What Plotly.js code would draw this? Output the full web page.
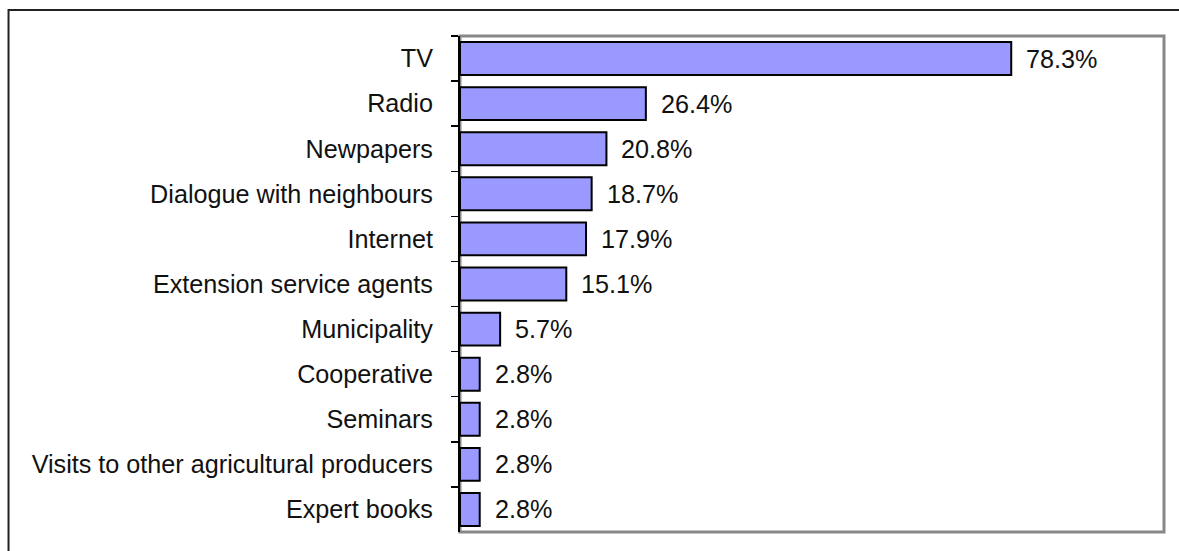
<!DOCTYPE html>
<html>
<head>
<meta charset="utf-8">
<script src="https://cdn.plot.ly/plotly-3.0.1.min.js"></script>
<style>
html,body{margin:0;padding:0;background:#fff;}
#chart{width:1179px;height:551px;}
</style>
</head>
<body>
<div id="chart"></div>
<script>
const categories = [
  "TV",
  "Radio",
  "Newpapers",
  "Dialogue with neighbours",
  "Internet",
  "Extension service agents",
  "Municipality",
  "Cooperative",
  "Seminars",
  "Visits to other agricultural producers",
  "Expert books"
];
const values = [78.3, 26.4, 20.8, 18.7, 17.9, 15.1, 5.7, 2.8, 2.8, 2.8, 2.8];
const valueLabels = values.map(v => v.toFixed(1) + "%");

const FONT = "Liberation Sans, Arial, sans-serif";
const FS = 25.2;

const trace = {
  type: "bar",
  orientation: "h",
  y: categories,
  x: values,
  marker: {color: "#9999FF", line: {color: "#000000", width: 2}},
  hoverinfo: "skip"
};

const annotations = categories.map((c, i) => ({
  x: values[i], y: c, xref: "x", yref: "y",
  text: valueLabels[i], showarrow: false,
  xanchor: "left", yanchor: "middle", xshift: 13,
  font: {family: FONT, size: FS, color: "#111"}
}));

const layout = {
  width: 1179, height: 551,
  margin: {l: 460, r: 15, t: 36, b: 19, pad: 0},
  paper_bgcolor: "#fff", plot_bgcolor: "#fff",
  showlegend: false,
  bargap: 0.27,
  font: {family: FONT, size: FS, color: "#111"},
  xaxis: {
    range: [0, 100], showgrid: false, zeroline: false,
    showticklabels: false, ticks: "", showline: false, fixedrange: true
  },
  yaxis: {
    type: "category", autorange: "reversed",
    showgrid: false, zeroline: false,
    showline: true, linecolor: "#000", linewidth: 2,
    ticks: "outside", tickson: "boundaries", ticklen: 7, tickcolor: "#000", tickwidth: 1.5,
    ticklabelstandoff: 20,
    tickfont: {family: FONT, size: FS, color: "#111"}
  },
  annotations: annotations,
  shapes: [
    {type: "rect", xref: "paper", yref: "paper", x0: 0, x1: 1, y0: 0, y1: 1,
     line: {color: "#888888", width: 3}, fillcolor: "rgba(0,0,0,0)", layer: "below"},
    {type: "rect", xref: "paper", yref: "paper", x0: -0.6413, x1: 1.05, y0: -0.06, y1: 1.0524,
     line: {color: "#222222", width: 2}, fillcolor: "rgba(0,0,0,0)", layer: "below"}
  ]
};

Plotly.newPlot("chart", [trace], layout, {displayModeBar: false, staticPlot: true});
</script>
</body>
</html>
